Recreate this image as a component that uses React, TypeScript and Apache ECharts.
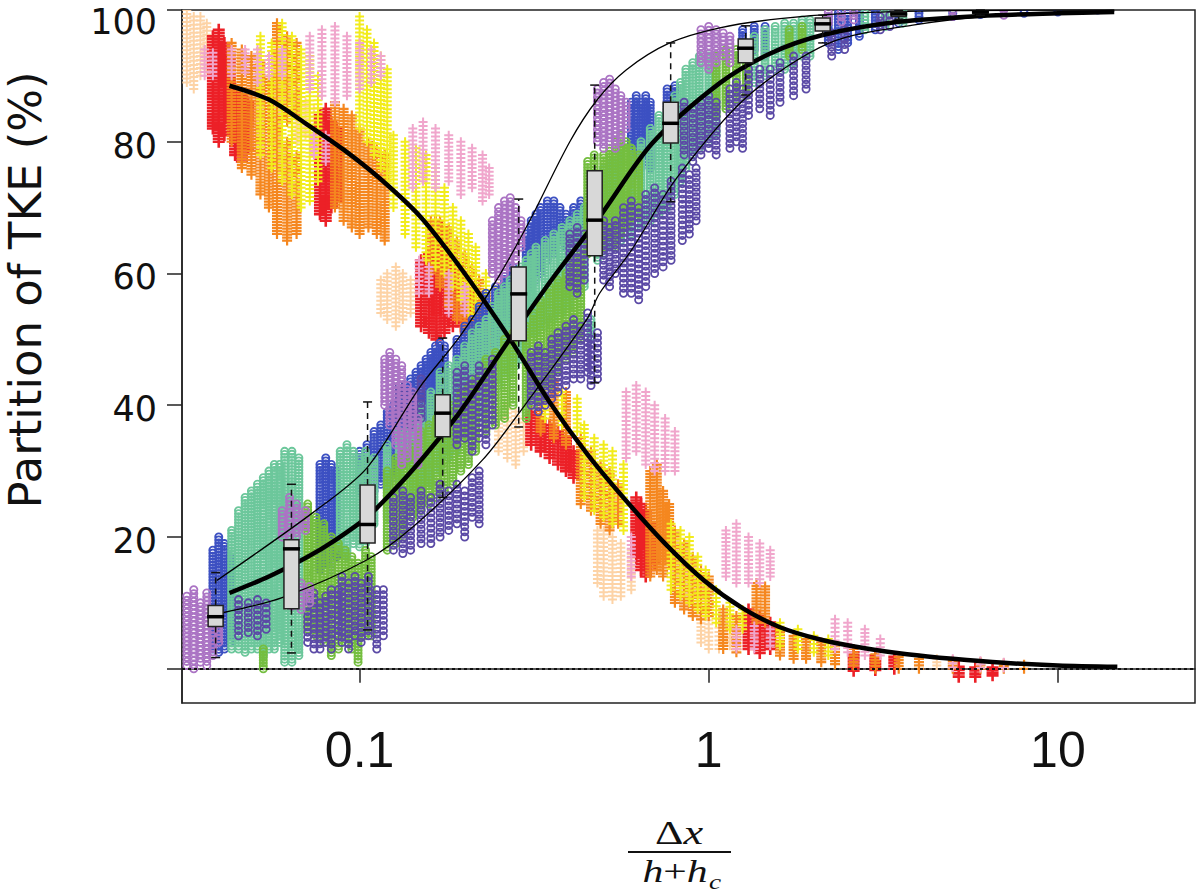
import React, { useEffect, useRef } from "react";
import * as echarts from "echarts";

type Col = [number, number, number];
type Pt = [number, number];

// ---------- ascending partition (open circles): columns [x, yLow, yHigh] ----------
const blueCols: Col[] = [
  [0.038, 3, 18], [0.0395, 2.5, 20], [0.041, 3, 19], [0.0425, 4, 17],
  [0.077, 15, 31], [0.08, 16, 32], [0.083, 15, 31], [0.086, 17, 30],
  [0.1, 27, 33], [0.105, 27, 34], [0.11, 27, 36], [0.115, 28, 37], [0.12, 28, 39], [0.125, 29, 40],
  [0.13, 30, 42], [0.135, 31, 43], [0.14, 32, 44], [0.145, 34, 45], [0.15, 35, 46], [0.155, 37, 47],
  [0.16, 38, 48], [0.165, 40, 49], [0.17, 41, 49.5], [0.175, 42, 49],
  [0.19, 41, 50], [0.2, 43, 52], [0.21, 44, 53], [0.22, 46, 55], [0.23, 47, 57], [0.245, 49, 58],
  [0.26, 50, 60], [0.275, 52, 61], [0.3, 56, 66], [0.31, 58, 68], [0.32, 59, 69], [0.33, 60, 70],
  [0.345, 62, 71], [0.36, 63, 71], [0.375, 64, 70], [0.39, 64, 69], [0.41, 65, 70], [0.43, 66, 71],
  [0.6, 74, 86], [0.62, 75, 87], [0.64, 76, 86], [0.66, 77, 87], [0.68, 76, 86], [0.76, 84, 88], [0.8, 85, 88.5],
  [1.25, 93, 97], [1.35, 94, 97.5], [1.45, 93, 97.5], [2.2, 95, 99], [2.35, 94, 99.5], [2.5, 95, 99.5],
  [2.7, 96, 99.6], [3.0, 97, 99.8], [3.5, 98, 99.9], [4.0, 98.5, 100], [5, 99, 100], [6, 99.3, 100],
  [8, 99.5, 100], [10, 99.7, 100], [13, 99.8, 100],
];

const mintCols: Col[] = [
  [0.043, 3, 21], [0.045, 3, 24], [0.047, 2.5, 26], [0.049, 3, 27], [0.051, 3, 28], [0.053, 2, 29],
  [0.055, 3, 30], [0.057, 3, 31], [0.059, 4, 31], [0.061, 1, 33], [0.064, 1, 33], [0.067, 2, 32],
  [0.088, 18, 33], [0.092, 17, 34], [0.096, 19, 33], [0.1, 18.5, 32], [0.104, 19, 33],
  [0.11, 22, 32], [0.12, 23, 34], [0.13, 24, 36], [0.14, 25, 38], [0.15, 27, 40], [0.16, 28, 42],
  [0.17, 30, 45], [0.18, 32, 46], [0.19, 33, 47], [0.2, 35, 49], [0.21, 36, 51], [0.22, 38, 52],
  [0.23, 40, 53], [0.24, 42, 55], [0.25, 43, 57], [0.26, 44, 58], [0.27, 45, 59], [0.28, 46, 60],
  [0.29, 47, 61], [0.3, 48, 62], [0.31, 50, 63], [0.32, 51, 64], [0.34, 52, 65], [0.36, 53, 66],
  [0.38, 54, 67], [0.4, 55, 68], [0.42, 57, 69], [0.44, 58, 70], [0.46, 50, 53],
  [0.48, 62, 75], [0.5, 63, 76], [0.53, 64, 77], [0.56, 65, 78], [0.6, 66, 79], [0.64, 67, 80],
  [0.68, 68, 82], [0.72, 69, 84], [0.76, 70, 85], [0.8, 72, 87], [0.83, 74, 89], [0.86, 76, 91],
  [0.9, 78, 92], [0.94, 79, 93], [1.0, 80, 93], [1.05, 81, 93],
  [1.35, 89, 96], [1.45, 90, 97], [1.55, 91, 97.5], [1.65, 91, 98], [1.75, 92, 98], [1.85, 93, 98.5],
  [1.95, 93, 98.5], [2.8, 97, 99.5], [3.2, 97.5, 99.7], [3.6, 98, 99.8],
];

const greenCols: Col[] = [
  [0.053, 0, 3], [0.071, 6, 25], [0.075, 5, 23], [0.079, 4, 22], [0.083, 2, 20], [0.087, 3, 19],
  [0.091, 4, 18], [0.095, 3, 17], [0.099, 1, 16], [0.104, 5, 18], [0.108, 5, 17],
  [0.12, 18, 30], [0.127, 19, 32], [0.134, 20, 33],
  [0.142, 23, 34], [0.15, 24, 36], [0.158, 25, 37], [0.166, 26, 38], [0.175, 27, 39], [0.185, 28, 40],
  [0.195, 30, 42], [0.205, 31, 43], [0.215, 33, 44],
  [0.23, 36, 47], [0.245, 37, 48], [0.26, 38, 50], [0.275, 40, 51],
  [0.3, 38, 52], [0.315, 40, 54], [0.33, 41, 56], [0.35, 43, 58], [0.37, 45, 59], [0.39, 47, 60],
  [0.41, 48, 62], [0.43, 50, 63],
  [0.45, 63, 77], [0.47, 64, 78], [0.5, 64, 78], [0.52, 65, 79], [0.54, 64, 80], [0.56, 66, 81],
  [0.58, 67, 80], [0.6, 68, 79], [0.63, 69, 78],
  [1.05, 84, 93], [1.12, 85, 94], [1.2, 86, 94], [1.28, 87, 95], [1.7, 93, 97], [1.85, 94, 97.5],
];

const indigoCols: Col[] = [
  [0.045, 5, 10.5], [0.048, 5.5, 10], [0.051, 5, 10.5], [0.054, 6, 10],
  [0.071, 4, 11], [0.074, 3, 11.5], [0.077, 3, 10], [0.08, 4, 11], [0.083, 3, 12], [0.087, 5, 12],
  [0.089, 4, 14], [0.093, 3, 13], [0.097, 5, 14], [0.101, 4, 13], [0.106, 5, 14], [0.112, 3, 12], [0.117, 5, 12],
  [0.125, 18, 26], [0.133, 17.5, 27], [0.14, 18, 26], [0.15, 19, 27], [0.16, 19, 26], [0.17, 20, 28],
  [0.18, 21, 27], [0.19, 22, 28], [0.2, 20, 27], [0.21, 23, 29], [0.22, 22, 30],
  [0.13, 38, 43], [0.14, 37, 42], [0.15, 38, 44],
  [0.19, 34, 45], [0.2, 35, 46], [0.21, 33, 44], [0.22, 35, 46], [0.23, 34, 45], [0.24, 37, 47],
  [0.31, 40, 48], [0.325, 39, 49], [0.34, 40, 48], [0.355, 41, 50], [0.37, 42, 51], [0.39, 43, 52],
  [0.41, 44, 53], [0.43, 44, 52], [0.45, 45, 54], [0.46, 43, 50], [0.48, 44, 51],
  [0.4, 58, 66], [0.42, 57, 67], [0.44, 59, 66],
  [0.5, 59, 68], [0.52, 58, 67], [0.54, 60, 68], [0.57, 57, 70], [0.6, 57, 71], [0.63, 56, 70],
  [0.66, 58, 72], [0.7, 60, 73], [0.74, 61, 72], [0.78, 62, 74], [0.84, 65, 76], [0.88, 66, 75], [0.92, 68, 76],
  [0.85, 78, 86], [0.9, 77, 85], [0.95, 78, 86], [1.0, 79, 87], [1.05, 78, 86], [1.15, 79, 88],
  [1.2, 80, 89], [1.25, 79, 88], [1.3, 84, 91], [1.4, 85, 91], [1.5, 84, 91], [1.6, 86, 92],
  [1.75, 87, 93], [1.9, 88, 93], [2.25, 93, 96.5], [2.45, 94, 97], [3.1, 97, 99], [3.3, 97.5, 99.2],
];

const lavenderCols: Col[] = [
  [0.032, 0.5, 11], [0.0335, 0, 12], [0.035, 1, 10], [0.0365, 0.5, 11.5], [0.038, 2, 9], [0.0395, 4, 8],
  [0.06, 20, 24], [0.063, 19, 26], [0.066, 20, 25], [0.07, 21, 24],
  [0.064, 9.5, 13], [0.068, 9, 13], [0.072, 10, 12.5],
  [0.118, 40, 47], [0.122, 37, 48], [0.127, 34, 47], [0.132, 31, 46], [0.137, 32, 43], [0.142, 35, 42], [0.147, 31, 38],
  [0.24, 60, 68], [0.25, 59, 70], [0.26, 60, 71], [0.27, 61, 71.5], [0.28, 62, 70], [0.29, 64, 68],
  [0.48, 80, 88], [0.5, 79, 89], [0.52, 80, 89.5], [0.54, 79, 88], [0.56, 80, 87], [0.58, 82, 86],
  [0.95, 92, 97], [1.0, 91, 97.5], [1.05, 92, 97], [1.1, 93, 96.5], [1.15, 92, 96],
  [2.2, 98, 99.6], [2.4, 98.2, 99.7], [2.6, 98.5, 99.8], [5, 99, 99.9], [7, 99.2, 100],
];

// ---------- descending partition (crosses) ----------
const peachCols: Col[] = [
  [0.032, 89, 100], [0.0335, 88, 99], [0.035, 90, 99], [0.0365, 91, 98],
  [0.066, 80, 87], [0.07, 81, 86], [0.074, 80, 85],
  [0.115, 54, 59], [0.12, 53, 60], [0.127, 52, 61], [0.133, 53, 60], [0.14, 54, 59],
  [0.25, 33, 39], [0.265, 32, 40], [0.28, 31, 39], [0.295, 33, 38],
  [0.48, 13, 21], [0.5, 11, 21], [0.53, 10.5, 20], [0.56, 11, 19], [0.6, 12, 18],
  [0.95, 4, 7.5], [1.0, 3, 8], [1.07, 3, 7.5], [1.15, 3.5, 7], [4.5, 0.5, 1.5],
];

const redCols: Col[] = [
  [0.038, 82, 96], [0.0395, 80, 97], [0.041, 81, 95], [0.0425, 83, 93], [0.044, 78, 88], [0.046, 77, 87], [0.048, 79, 86],
  [0.077, 69, 84], [0.08, 68, 85], [0.083, 70, 83], [0.086, 71, 82],
  [0.15, 52, 62], [0.158, 51, 63], [0.166, 50, 64], [0.175, 51, 63], [0.185, 52, 62], [0.195, 52, 58],
  [0.205, 53, 57], [0.165, 60, 68], [0.172, 61, 67],
  [0.31, 34, 39], [0.33, 33, 38], [0.35, 32, 37], [0.37, 31, 36], [0.39, 30, 35], [0.41, 29, 33],
  [0.62, 17, 26], [0.64, 15, 25], [0.66, 14, 24], [0.68, 15, 22], [0.7, 16, 20],
  [1.3, 3, 9], [1.4, 2.4, 8], [1.5, 3, 7],
  [2.6, -0.3, 2.5], [3.0, -0.2, 2], [3.4, 0, 1.8], [5.2, -1.2, 0.3], [5.8, -1.2, 0.2], [6.5, -1, 0.2],
];

const orangeCols: Col[] = [
  [0.043, 80, 95], [0.046, 76, 94], [0.049, 75, 93], [0.052, 72, 92], [0.055, 70, 90],
  [0.058, 66, 82], [0.062, 65, 80], [0.066, 66, 78], [0.058, 82, 98], [0.062, 83, 96], [0.066, 84, 95],
  [0.085, 70, 86], [0.09, 68, 85], [0.095, 67, 84], [0.1, 66, 82], [0.106, 67, 80], [0.112, 66, 79], [0.118, 65, 78],
  [0.16, 60, 68], [0.17, 58, 68], [0.18, 55, 67], [0.19, 53, 65], [0.2, 51, 63], [0.21, 50, 61],
  [0.22, 49, 59], [0.23, 48, 57], [0.24, 47, 55],
  [0.33, 36, 45], [0.36, 35, 44], [0.39, 34, 42],
  [0.43, 25, 35], [0.46, 24, 33], [0.49, 22, 31], [0.52, 21, 30], [0.55, 22, 28],
  [0.68, 14, 30], [0.71, 15, 31], [0.74, 14, 27], [0.77, 16, 25],
  [0.8, 10, 21], [0.85, 9, 19], [0.9, 8, 17], [0.95, 7.5, 15], [1.0, 8, 14], [1.1, 3, 9], [1.2, 2.5, 8],
  [1.37, 7, 13], [1.45, 7, 12.5],
  [1.6, 2, 6], [1.75, 1.5, 5], [1.9, 1.5, 4.5], [2.1, 1, 4], [2.3, 0.7, 3.5], [2.6, 0.5, 3],
  [3, 0, 2.2], [3.5, 0, 1.8], [4, 0, 1.5], [5, 0, 1.2], [6, 0, 1], [7, 0, 0.8], [8, 0, 0.6],
];

const yellowCols: Col[] = [
  [0.052, 78, 96], [0.056, 76, 95], [0.06, 74, 98], [0.064, 72, 96], [0.068, 70, 94], [0.072, 71, 93], [0.076, 74, 90],
  [0.1, 82, 99], [0.105, 80, 97], [0.11, 78, 95], [0.115, 76, 93], [0.12, 74, 91],
  [0.125, 70, 81], [0.135, 66, 80], [0.145, 64, 79], [0.155, 62, 78], [0.165, 61, 76], [0.175, 60, 73],
  [0.185, 58, 70], [0.195, 56, 68], [0.205, 54, 66], [0.215, 52, 64], [0.23, 52, 60], [0.25, 50, 58],
  [0.34, 38, 43], [0.38, 37, 42], [0.42, 36, 41],
  [0.44, 26, 37], [0.47, 24, 35], [0.5, 23, 34], [0.53, 22, 33], [0.57, 21, 31],
  [0.78, 12, 22], [0.83, 11, 21], [0.88, 10, 20], [0.93, 9, 17], [0.98, 8, 15], [1.05, 7, 12],
  [1.15, 6, 10], [1.25, 6, 9], [1.6, 3.5, 7], [1.8, 3, 6], [2.0, 2.5, 5], [2.2, 2, 4.5],
];

const pinkCols: Col[] = [
  [0.036, 90, 94], [0.038, 90, 93.5], [0.043, 90, 94], [0.047, 90.5, 94], [0.051, 89, 94], [0.055, 90, 93], [0.06, 90, 94],
  [0.072, 88, 96], [0.078, 87, 97], [0.085, 86, 97.5], [0.092, 87, 96], [0.1, 88, 95], [0.108, 89, 94], [0.115, 90, 93],
  [0.074, 78, 81], [0.08, 77, 81],
  [0.142, 73, 82], [0.152, 74, 83], [0.165, 73, 82], [0.18, 74, 81], [0.195, 72, 80], [0.21, 73, 79],
  [0.225, 71, 78], [0.235, 72, 76],
  [0.148, 57, 62], [0.158, 57, 61], [0.18, 54, 60], [0.2, 54, 58],
  [0.58, 32, 42], [0.62, 33, 43], [0.66, 31, 42], [0.7, 30, 40], [0.75, 30, 38], [0.8, 30, 36], [0.6, 14, 20],
  [1.12, 14, 21], [1.2, 13, 22], [1.3, 13, 20], [1.4, 13, 19], [1.5, 14, 18],
  [1.2, 3, 6], [1.35, 3, 6.5], [1.5, 3.5, 6],
  [2.3, 3, 7.5], [2.5, 2.5, 7], [2.8, 2, 6], [3.1, 2, 4.5],
  [5, 0.2, 1.5], [6, 0.1, 1.2], [7, 0.1, 1],
];

// ---------- fitted curves ----------
const fitUp: Pt[] = [
  [0.0424, 11.5], [0.055, 14], [0.07, 16.8], [0.085, 19.5], [0.105, 23], [0.125, 27], [0.149, 31.5],
  [0.194, 39], [0.269, 50], [0.36, 59.5], [0.487, 68.6], [0.69, 79.8], [1.075, 88.9], [1.5, 93.4],
  [2.12, 96.2], [3.5, 98.2], [6, 99.1], [10, 99.5], [14.5, 99.7],
];
const envUpper: Pt[] = [
  [0.039, 13.4], [0.0735, 23.7], [0.105, 30.5], [0.149, 42.8], [0.194, 50.5], [0.25, 59.5], [0.307, 68],
  [0.4, 80], [0.478, 86.3], [0.58, 90.9], [0.773, 95], [1.075, 97.3], [1.6, 98.7], [2.49, 99.5],
  [5, 99.9], [14.5, 100],
];
const envLower: Pt[] = [
  [0.0405, 8.5], [0.06, 10.8], [0.1048, 16.5], [0.142, 21.5], [0.225, 31.7], [0.3, 40.3], [0.447, 53],
  [0.487, 57], [0.6, 63.5], [0.81, 74.5], [1.285, 86.8], [2.22, 95], [3.84, 97.7], [6.8, 99.2], [14.5, 99.8],
];
const fitDown: Pt[] = [
  [0.0424, 88.5], [0.055, 86.4], [0.07, 82.8], [0.09, 78.8], [0.115, 74.3], [0.15, 68.5], [0.2, 60],
  [0.27, 50], [0.35, 40.5], [0.45, 32.5], [0.58, 25.5], [0.75, 19], [0.97, 13.4], [1.25, 9.2],
  [1.6, 6.3], [2.1, 4.4], [2.8, 3.1], [3.7, 2.2], [5, 1.5], [7, 0.9], [10, 0.5], [14.8, 0.3],
];

// ---------- box plots of the ascending partition ----------
const boxX = [0.0387, 0.0638, 0.1054, 0.173, 0.2856, 0.4714, 0.778, 1.276, 2.12, 3.5, 6];
const boxWhiskerLow = [1.7, 2.4, 5.9, 26, 36.7, 43.4, 70.9, 87.1, 95, 98.6, 99.2];
const boxQ1 = [6.4, 9.1, 19.1, 35.2, 49.8, 62.7, 79.8, 92, 96.8, 99, 99.5];
const boxMedian = [7.9, 18.2, 21.9, 38.8, 56.9, 68.1, 82.8, 94.2, 97.9, 99.4, 99.7];
const boxQ3 = [9.6, 19.6, 27.9, 41.6, 61, 75.6, 86, 95.6, 98.8, 99.7, 99.9];
const boxWhiskerHigh = [14.6, 28, 40.5, 50.2, 71.3, 88.6, 95, 97.6, 99.2, 99.9, 100];

const xTickValues = [0.1, 1, 10];
const yTickValues = [0, 20, 40, 60, 80, 100];
const yLabelValues = [20, 40, 60, 80, 100];

function columnSeries(data: Col[], color: string, kind: "circle" | "cross", step: number, size: number, lw: number) {
  return {
    type: "custom",
    data,
    silent: true,
    clip: true,
    encode: { x: 0, y: [1, 2] },
    renderItem: (_params: any, api: any) => {
      const x = api.value(0);
      const top = api.coord([x, api.value(2)]);
      const bot = api.coord([x, api.value(1)]);
      const span = bot[1] - top[1];
      const n = Math.max(0, Math.round(span / step));
      const cx = top[0];
      let d = "";
      for (let i = 0; i <= n; i++) {
        const cy = n === 0 ? top[1] : top[1] + (span * i) / n;
        if (kind === "circle") {
          d += `M${cx + size} ${cy}A${size} ${size} 0 1 0 ${cx - size} ${cy}A${size} ${size} 0 1 0 ${cx + size} ${cy}Z`;
        } else {
          d += `M${cx - size} ${cy}L${cx + size} ${cy}M${cx} ${cy - size}L${cx} ${cy + size}`;
        }
      }
      return {
        type: "path",
        shape: { pathData: d },
        style: { fill: "none", stroke: color, lineWidth: lw },
      };
    },
  };
}

function curveSeries(data: Pt[], width: number, extra: any = {}) {
  return {
    type: "line",
    data,
    symbol: "none",
    showSymbol: false,
    smooth: 0.3,
    silent: true,
    z: 5,
    lineStyle: { color: "#000", width },
    ...extra,
  };
}

const serif = "'Liberation Serif', 'DejaVu Serif', serif";

export default function App() {
  const ref = useRef<HTMLDivElement>(null);

  useEffect(() => {
    document.body.style.margin = "0";
    if (!ref.current) return;
    const chart = echarts.init(ref.current, undefined, { renderer: "svg" });

    const boxData = boxX.map((x, i) => [x, boxWhiskerLow[i], boxQ1[i], boxMedian[i], boxQ3[i], boxWhiskerHigh[i]]);

    const yLabelFont = { fontFamily: "'DejaVu Sans', sans-serif", fontSize: 35, color: "#111" };

    const option: any = {
      animation: false,
      backgroundColor: "#fff",
      grid: { left: 182, top: 10, width: 1013, height: 693, show: true, borderColor: "#222", borderWidth: 1.5 },
      xAxis: {
        type: "log",
        logBase: 10,
        min: 0.031,
        max: 24.7,
        axisLine: { show: true, lineStyle: { color: "#222", width: 1.5 } },
        axisTick: { show: true, length: 14, lineStyle: { color: "#222", width: 1.5 }, customValues: xTickValues },
        minorTick: { show: false },
        splitLine: { show: false },
        axisLabel: {
          customValues: xTickValues,
          formatter: (v: number) => String(v),
          fontFamily: "'Liberation Sans Narrow', 'Liberation Sans', sans-serif",
          fontSize: 50,
          color: "#111",
          margin: 22,
        },
      },
      yAxis: {
        type: "value",
        min: -5.2,
        max: 100,
        axisLine: { show: true, lineStyle: { color: "#222", width: 1.5 } },
        axisTick: { show: true, length: 15, lineStyle: { color: "#222", width: 1.5 }, customValues: yTickValues },
        splitLine: { show: false },
        axisLabel: {
          customValues: yLabelValues,
          ...yLabelFont,
          margin: 25,
          formatter: (v: number) => (v === 100 ? `{t|${v}}` : `{n|${v}}`),
          rich: {
            t: { ...yLabelFont, padding: [24, 0, 0, 0] },
            n: { ...yLabelFont, padding: [8, 0, 0, 0] },
          },
        },
      },
      graphic: [
        {
          type: "text",
          x: 25,
          y: 290,
          rotation: Math.PI / 2,
          style: {
            text: "Partition of TKE (%)",
            fontFamily: "'DejaVu Sans', sans-serif",
            fontSize: 45,
            fill: "#111",
            textAlign: "center",
            textVerticalAlign: "middle",
          },
        },
        {
          type: "text",
          x: 679,
          y: 833,
          scaleX: 1.3,
          style: {
            text: "{n|Δ}{i|x}",
            fontFamily: serif,
            fontSize: 34,
            fill: "#111",
            textAlign: "center",
            textVerticalAlign: "middle",
            rich: {
              n: { fontFamily: serif, fontSize: 34, fill: "#111" },
              i: { fontFamily: serif, fontStyle: "italic", fontSize: 34, fill: "#111" },
            },
          },
        },
        {
          type: "line",
          shape: { x1: 628, y1: 852, x2: 731, y2: 852 },
          style: { stroke: "#111", lineWidth: 2 },
        },
        {
          type: "text",
          x: 675,
          y: 871,
          scaleX: 1.3,
          style: {
            text: "{i|h}{n|+}{i|h}",
            fontFamily: serif,
            fontSize: 32,
            fill: "#111",
            textAlign: "center",
            textVerticalAlign: "middle",
            rich: {
              i: { fontFamily: serif, fontStyle: "italic", fontSize: 32, fill: "#111" },
              n: { fontFamily: serif, fontSize: 32, fill: "#111" },
            },
          },
        },
        {
          type: "text",
          x: 709,
          y: 892,
          scaleX: 1.3,
          style: {
            text: "c",
            fontFamily: serif,
            fontStyle: "italic",
            fontSize: 21,
            fill: "#111",
            textAlign: "left",
            textVerticalAlign: "bottom",
          },
        },
      ],
      series: [
        columnSeries(peachCols, "#fdd3a6", "cross", 4, 4.5, 2),
        columnSeries(redCols, "#ec2027", "cross", 3, 6, 2.6),
        columnSeries(orangeCols, "#f5871f", "cross", 3, 5, 2.2),
        columnSeries(yellowCols, "#f2ec1c", "cross", 4, 4.5, 2),
        columnSeries(pinkCols, "#f0a6cc", "cross", 4, 4.5, 2),
        columnSeries(blueCols, "#3c50c2", "circle", 3, 3.6, 1.8),
        columnSeries(mintCols, "#6cc79b", "circle", 3, 3.6, 1.8),
        columnSeries(greenCols, "#74be3f", "circle", 3, 3.6, 1.8),
        columnSeries(indigoCols, "#5b4aa6", "circle", 5, 3.6, 1.8),
        columnSeries(lavenderCols, "#ab74c4", "circle", 4, 3.6, 1.8),
        curveSeries(envUpper, 1.3),
        curveSeries(envLower, 1.3),
        curveSeries(fitUp, 4.5),
        curveSeries(fitDown, 4.5, {
          markLine: {
            silent: true,
            symbol: "none",
            label: { show: false },
            lineStyle: { type: [3, 3], color: "#111", width: 2 },
            data: [{ yAxis: 0 }],
          },
        }),
        {
          type: "custom",
          data: boxData,
          silent: true,
          z: 6,
          encode: { x: 0, y: [1, 2, 3, 4, 5] },
          renderItem: (_params: any, api: any) => {
            const x = api.value(0);
            const wl = api.coord([x, api.value(1)]);
            const q1 = api.coord([x, api.value(2)]);
            const md = api.coord([x, api.value(3)]);
            const q3 = api.coord([x, api.value(4)]);
            const wh = api.coord([x, api.value(5)]);
            const cx = wl[0];
            const hw = 7.5;
            const cap = 4.5;
            const ink = "#111";
            return {
              type: "group",
              children: [
                { type: "line", shape: { x1: cx, y1: q3[1], x2: cx, y2: wh[1] }, style: { stroke: ink, lineWidth: 1.5, lineDash: [6, 5] } },
                { type: "line", shape: { x1: cx, y1: q1[1], x2: cx, y2: wl[1] }, style: { stroke: ink, lineWidth: 1.5, lineDash: [6, 5] } },
                { type: "line", shape: { x1: cx - cap, y1: wh[1], x2: cx + cap, y2: wh[1] }, style: { stroke: ink, lineWidth: 1.5 } },
                { type: "line", shape: { x1: cx - cap, y1: wl[1], x2: cx + cap, y2: wl[1] }, style: { stroke: ink, lineWidth: 1.5 } },
                {
                  type: "rect",
                  shape: { x: cx - hw, y: q3[1], width: hw * 2, height: Math.max(1, q1[1] - q3[1]) },
                  style: { fill: "#d8d8d8", stroke: "#222", lineWidth: 1.5 },
                },
                { type: "line", shape: { x1: cx - hw - 1, y1: md[1], x2: cx + hw + 1, y2: md[1] }, style: { stroke: "#000", lineWidth: 3.5 } },
              ],
            };
          },
        },
      ],
    };

    chart.setOption(option);
    return () => chart.dispose();
  }, []);

  return <div ref={ref} style={{ width: 1200, height: 894 }} />;
}
